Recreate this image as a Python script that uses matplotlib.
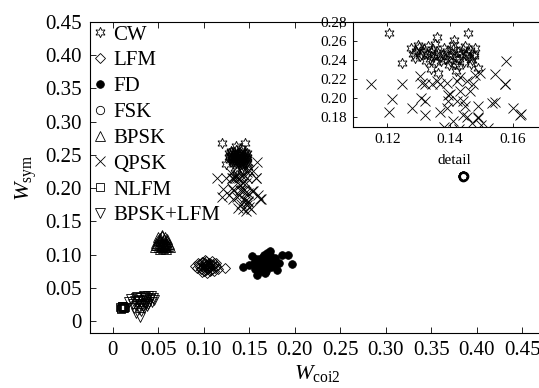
import matplotlib
matplotlib.use("Agg")
import matplotlib.pyplot as plt

plt.rcParams['font.family'] = ['Liberation Serif', 'DejaVu Serif']
plt.rcParams['mathtext.fontset'] = 'custom'
plt.rcParams['mathtext.rm'] = 'Liberation Serif'
plt.rcParams['mathtext.it'] = 'Liberation Serif:italic'

# feature values (W_coi2, W_sym) per signal class
cw_x = [0.1206, 0.1245, 0.1358, 0.1413, 0.1458, 0.1340, 0.1360, 0.1420, 0.1490,
        0.1275, 0.1282, 0.1290, 0.1300, 0.1305, 0.1312, 0.1318, 0.1325, 0.1330,
        0.1335, 0.1340, 0.1345, 0.1350, 0.1355, 0.1362, 0.1368, 0.1372, 0.1378,
        0.1385, 0.1390, 0.1395, 0.1400, 0.1405, 0.1410, 0.1415, 0.1420, 0.1425,
        0.1430, 0.1435, 0.1440, 0.1445, 0.1450, 0.1455, 0.1460, 0.1465, 0.1470,
        0.1475, 0.1480, 0.1288, 0.1298, 0.1322, 0.1338, 0.1352, 0.1382, 0.1408,
        0.1428, 0.1448, 0.1468, 0.1478, 0.1308, 0.1398]
cw_y = [0.268, 0.237, 0.264, 0.261, 0.268, 0.231, 0.227, 0.229, 0.232,
        0.253, 0.247, 0.250, 0.254, 0.244, 0.249, 0.252, 0.246, 0.255,
        0.241, 0.249, 0.252, 0.245, 0.238, 0.248, 0.243, 0.239, 0.246,
        0.241, 0.250, 0.244, 0.239, 0.247, 0.252, 0.236, 0.243, 0.249,
        0.241, 0.246, 0.252, 0.238, 0.245, 0.249, 0.243, 0.251, 0.240,
        0.247, 0.253, 0.242, 0.256, 0.239, 0.244, 0.257, 0.253, 0.256,
        0.234, 0.255, 0.236, 0.244, 0.247, 0.235]

qpsk_x = [0.1148, 0.1245, 0.1216, 0.1206, 0.1277, 0.1306, 0.1319, 0.1319, 0.1368,
          0.1303, 0.1319, 0.1342, 0.1368, 0.1390, 0.1400, 0.1423, 0.1394, 0.1423,
          0.1442, 0.1448, 0.1442, 0.1490, 0.1490, 0.1432, 0.1455, 0.1480, 0.1474,
          0.1497, 0.1545, 0.1580, 0.1574, 0.1545, 0.1600, 0.1623, 0.1390, 0.1358,
          0.1310, 0.1432, 0.1465, 0.1535, 0.1394, 0.1490, 0.1455, 0.1626, 0.1577,
          0.1430, 0.1500, 0.1460, 0.1380, 0.1520, 0.1410, 0.1470]
qpsk_y = [0.215, 0.215, 0.199, 0.186, 0.190, 0.200, 0.197, 0.183, 0.186,
          0.223, 0.215, 0.215, 0.215, 0.216, 0.205, 0.218, 0.197, 0.197,
          0.197, 0.192, 0.183, 0.192, 0.181, 0.222, 0.218, 0.224, 0.215,
          0.227, 0.226, 0.239, 0.215, 0.196, 0.190, 0.183, 0.190, 0.218,
          0.216, 0.208, 0.208, 0.195, 0.204, 0.179, 0.181, 0.184, 0.215,
          0.168, 0.172, 0.165, 0.170, 0.169, 0.176, 0.174]

lfm_x = [0.090, 0.093, 0.095, 0.097, 0.098, 0.099, 0.100, 0.101, 0.102, 0.103,
         0.104, 0.105, 0.106, 0.107, 0.108, 0.109, 0.110, 0.111, 0.112, 0.114,
         0.096, 0.100, 0.103, 0.106, 0.109, 0.099, 0.102, 0.105, 0.108, 0.104,
         0.101, 0.107, 0.113, 0.116, 0.123, 0.094, 0.098, 0.111, 0.103, 0.106]
lfm_y = [0.083, 0.080, 0.086, 0.078, 0.089, 0.082, 0.076, 0.087, 0.080, 0.091,
         0.084, 0.078, 0.088, 0.082, 0.086, 0.079, 0.084, 0.088, 0.080, 0.083,
         0.081, 0.085, 0.077, 0.081, 0.090, 0.089, 0.083, 0.086, 0.077, 0.073,
         0.092, 0.075, 0.087, 0.079, 0.080, 0.088, 0.074, 0.076, 0.085, 0.084]

fd_x = [0.143, 0.153, 0.159, 0.169, 0.1725, 0.186, 0.193, 0.197, 0.183, 0.180,
        0.167, 0.155, 0.158, 0.161, 0.163, 0.165, 0.168, 0.170, 0.172, 0.175,
        0.177, 0.156, 0.160, 0.164, 0.166, 0.171, 0.174, 0.162, 0.168, 0.178,
        0.157, 0.173, 0.150, 0.176, 0.164]
fd_y = [0.081, 0.098, 0.069, 0.102, 0.105, 0.099, 0.099, 0.086, 0.087, 0.077,
        0.072, 0.088, 0.082, 0.093, 0.085, 0.096, 0.090, 0.083, 0.094, 0.088,
        0.092, 0.078, 0.087, 0.080, 0.099, 0.090, 0.081, 0.091, 0.076, 0.095,
        0.093, 0.100, 0.085, 0.084, 0.075]

bpsk_x = [0.046, 0.048, 0.049, 0.050, 0.051, 0.052, 0.053, 0.054, 0.055, 0.056,
          0.057, 0.058, 0.059, 0.060, 0.061, 0.062, 0.050, 0.052, 0.054, 0.056,
          0.058, 0.060, 0.053, 0.055, 0.057, 0.051, 0.053, 0.055, 0.057, 0.059,
          0.054, 0.056, 0.052, 0.058, 0.047, 0.063]
bpsk_y = [0.112, 0.118, 0.114, 0.122, 0.111, 0.125, 0.117, 0.113, 0.121, 0.116,
          0.112, 0.119, 0.114, 0.120, 0.113, 0.116, 0.127, 0.109, 0.128, 0.124,
          0.109, 0.123, 0.120, 0.110, 0.126, 0.116, 0.113, 0.118, 0.115, 0.111,
          0.130, 0.112, 0.121, 0.116, 0.115, 0.112]

fsk_x = [0.3845, 0.3850, 0.3855, 0.3848, 0.3852, 0.3846, 0.3854, 0.3850]
fsk_y = [0.2180, 0.2185, 0.2178, 0.2175, 0.2188, 0.2183, 0.2181, 0.2176]

nlfm_x = [0.0085, 0.0095, 0.0105, 0.0115, 0.0125, 0.0090, 0.0110, 0.0130, 0.0100, 0.0120]
nlfm_y = [0.0215, 0.0200, 0.0225, 0.0195, 0.0210, 0.0185, 0.0230, 0.0205, 0.0220, 0.0190]

bl_x = [0.018, 0.020, 0.022, 0.024, 0.025, 0.026, 0.027, 0.028, 0.029, 0.030,
        0.031, 0.032, 0.033, 0.034, 0.035, 0.036, 0.037, 0.038, 0.039, 0.040,
        0.041, 0.042, 0.043, 0.044, 0.045, 0.023, 0.027, 0.031, 0.035, 0.039,
        0.030, 0.026, 0.034, 0.038, 0.029, 0.033]
bl_y = [0.028, 0.033, 0.025, 0.030, 0.035, 0.022, 0.028, 0.032, 0.018, 0.026,
        0.034, 0.024, 0.030, 0.020, 0.036, 0.027, 0.031, 0.022, 0.037, 0.029,
        0.033, 0.038, 0.028, 0.035, 0.031, 0.020, 0.036, 0.015, 0.025, 0.026,
        0.006, 0.012, 0.038, 0.034, 0.030, 0.023]

main_xticks = [0, 0.05, 0.10, 0.15, 0.20, 0.25, 0.30, 0.35, 0.40, 0.45]
main_xlabels = ['0', '0.05', '0.10', '0.15', '0.20', '0.25', '0.30', '0.35', '0.40', '0.45']
main_yticks = [0, 0.05, 0.10, 0.15, 0.20, 0.25, 0.30, 0.35, 0.40, 0.45]
main_ylabels = ['0', '0.05', '0.10', '0.15', '0.20', '0.25', '0.30', '0.35', '0.40', '0.45']
inset_xticks = [0.12, 0.14, 0.16]
inset_yticks = [0.18, 0.20, 0.22, 0.24, 0.26, 0.28]

star = (6, 1, 0)
lw = 0.6
styles = {
    'CW': dict(marker=star, ms=7.5, mfc='none', mec='k', mew=lw),
    'LFM': dict(marker='D', ms=5.5, mfc='none', mec='k', mew=lw),
    'FD': dict(marker='o', ms=5.5, mfc='k', mec='k', mew=lw),
    'FSK': dict(marker='o', ms=6, mfc='none', mec='k', mew=1.0),
    'BPSK': dict(marker='^', ms=7, mfc='none', mec='k', mew=lw),
    'QPSK': dict(marker='x', ms=7, mfc='none', mec='k', mew=lw),
    'NLFM': dict(marker='s', ms=6, mfc='none', mec='k', mew=lw),
    'BPSK+LFM': dict(marker='v', ms=7, mfc='none', mec='k', mew=lw),
}
series = [('CW', cw_x, cw_y), ('LFM', lfm_x, lfm_y), ('FD', fd_x, fd_y),
          ('FSK', fsk_x, fsk_y), ('BPSK', bpsk_x, bpsk_y), ('QPSK', qpsk_x, qpsk_y),
          ('NLFM', nlfm_x, nlfm_y), ('BPSK+LFM', bl_x, bl_y)]

fig = plt.figure(figsize=(5.39, 3.88), dpi=100)
ax = fig.add_axes([90 / 539, 55 / 388, 455 / 539, 311 / 388])

for name, xs, ys in series:
    ax.plot(xs, ys, linestyle='none', label=name, **styles[name])

ax.set_xlim(-0.025, 0.475)
ax.set_ylim(-0.018, 0.45)
ax.set_xticks(main_xticks)
ax.set_xticklabels(main_xlabels)
ax.set_yticks(main_yticks)
ax.set_yticklabels(main_ylabels)
ax.tick_params(direction='in', length=4, width=0.6, labelsize=15, top=True, pad=6)
for sp in ax.spines.values():
    sp.set_linewidth(0.8)
ax.set_xlabel(r'$W_{\mathrm{coi2}}$', fontsize=16, labelpad=2)
ax.set_ylabel(r'$W_{\mathrm{sym}}$', fontsize=16, labelpad=4)

# legend handles with plain marker sizes (FSK ring drawn thinner)
leg_handles = []
for name, _, _ in series:
    st = dict(styles[name])
    if name == 'FSK':
        st['mew'] = lw
    h, = ax.plot([], [], linestyle='none', **st)
    leg_handles.append(h)
ax.legend(leg_handles, [s[0] for s in series], loc='upper left', frameon=False,
          fontsize=15, handlelength=0.6, handletextpad=0.3, labelspacing=0.3,
          borderpad=0.2, borderaxespad=0.0, bbox_to_anchor=(0.0, 1.004))

ax.text(0.3758, 0.242, 'detail', fontsize=11, ha='center', va='center')

# zoomed view of the CW / QPSK cluster
axin = fig.add_axes([353 / 539, 261 / 388, 191 / 539, 105 / 388])
axin.plot(cw_x, cw_y, linestyle='none', **styles['CW'])
axin.plot(qpsk_x, qpsk_y, linestyle='none', **styles['QPSK'])
axin.set_xlim(0.109, 0.17)
axin.set_ylim(0.17, 0.28)
axin.set_xticks(inset_xticks)
axin.set_xticklabels(['%.2f' % v for v in inset_xticks])
axin.set_yticks(inset_yticks)
axin.set_yticklabels(['%.2f' % v for v in inset_yticks])
axin.tick_params(direction='in', length=3, width=0.6, labelsize=11, top=True, right=True, pad=4)
for sp in axin.spines.values():
    sp.set_linewidth(0.8)

fig.savefig('out.png', dpi=100)
